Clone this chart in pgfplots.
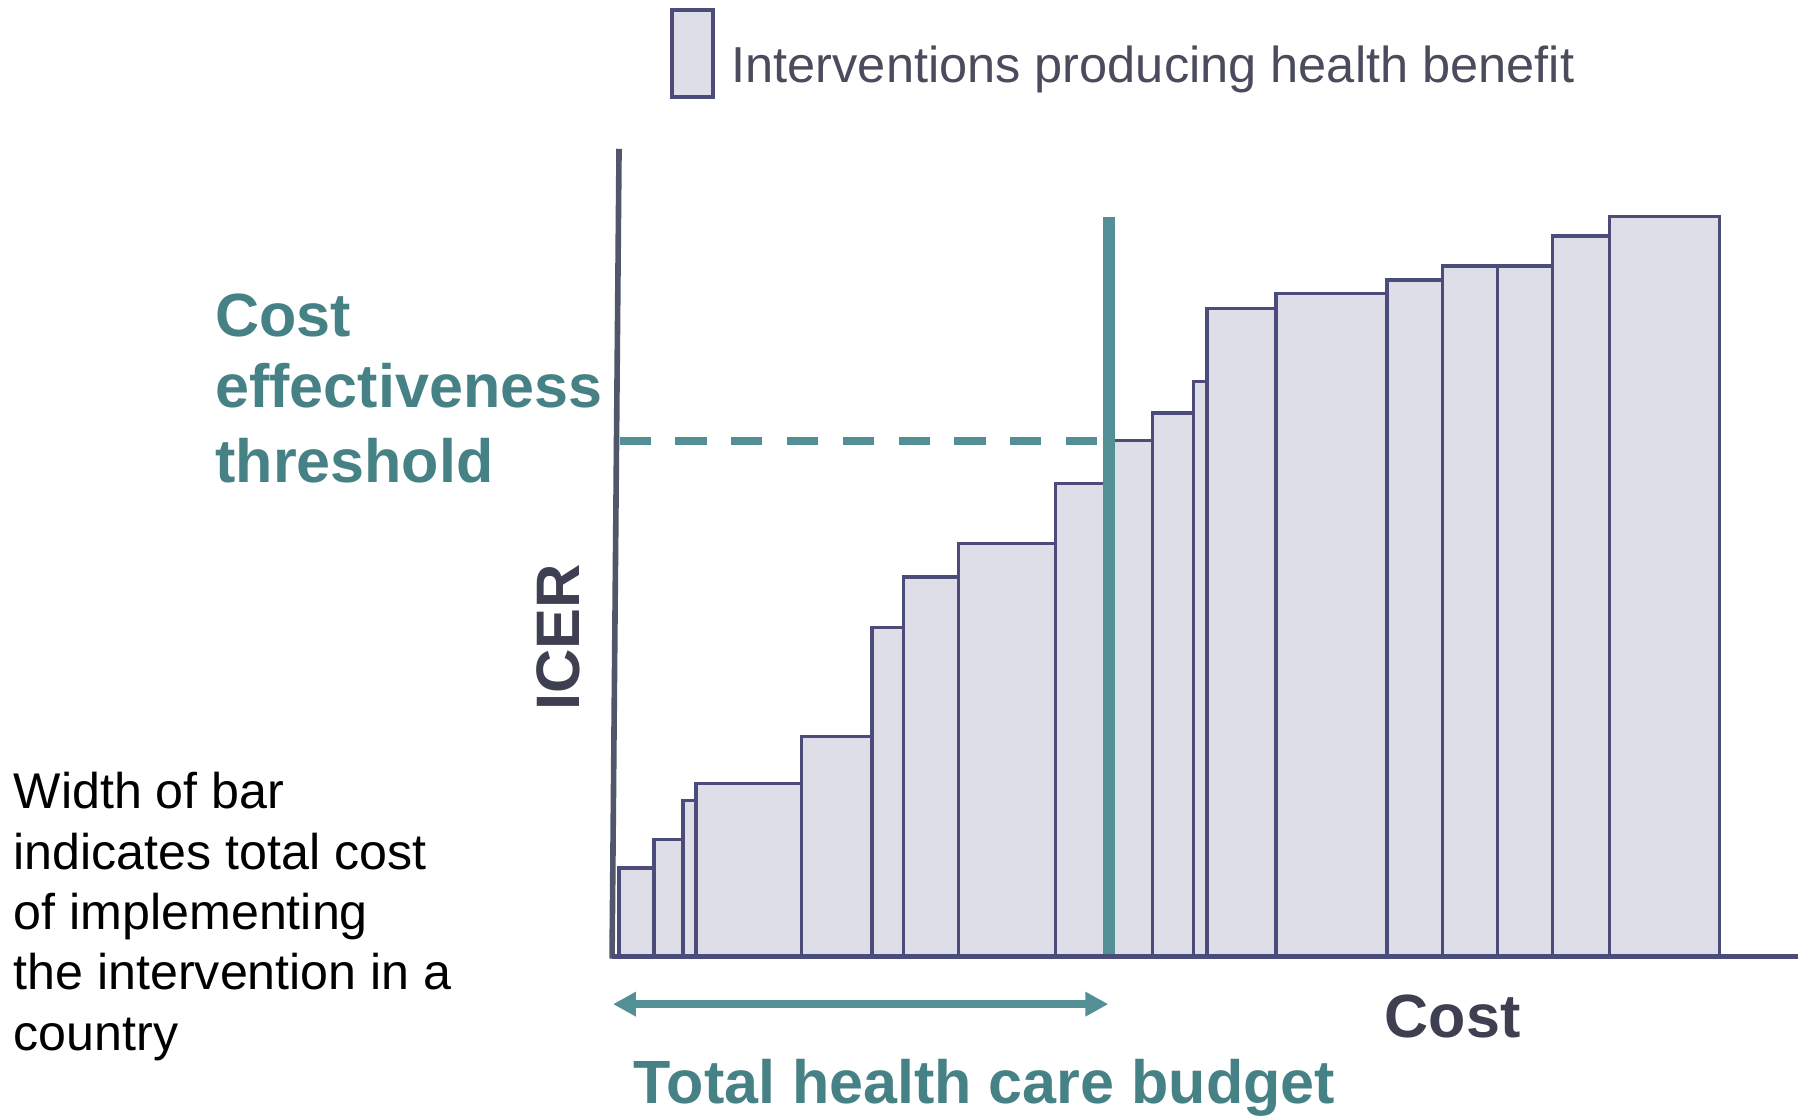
\documentclass[border=0pt]{standalone}
\usepackage{pgfplots}
\pgfplotsset{compat=1.18}
\usepackage{fontspec}
\setmainfont{Liberation Sans}
\usetikzlibrary{arrows.meta}

\definecolor{tealline}{HTML}{539095}
\definecolor{tealtext}{HTML}{468185}
\definecolor{barfill}{HTML}{DDDEE7}
\definecolor{barline}{HTML}{4B4C79}
\definecolor{yaxiscol}{HTML}{52566A}
\definecolor{darktext}{HTML}{3E4052}
\definecolor{legtext}{HTML}{4A4B5C}

% Left edge of each intervention (cumulative cost) and its ICER;
% the last row closes the final interval.
\pgfplotstableread{
cost icer
5     87.5
40    116
69    155
82    172.5
187.5 219.5
258.5 328.5
290   379
345   412.5
442   473
497.5 515.5
539   543.5
580.5 575
594   648
663   663
774   676.5
829.5 690.5
884.5 690.5
940   720.5
997   740
1107  740
}\interventions

\begin{document}
\begin{tikzpicture}
\begin{axis}[
  x=0.1mm, y=0.1mm,
  xmin=-615, xmax=1186, ymin=-161, ymax=957,
  enlargelimits=false,
  hide axis,
  clip=false,
]
% page extent
\path (axis cs:-615,-161) rectangle (axis cs:1186,957);

% league-table bars: width = cost, height = ICER
\addplot[ybar interval, fill=barfill, draw=barline, line width=0.95pt, mark=none]
  table[x=cost, y=icer] {\interventions};

% cost effectiveness threshold (dashed) and budget limit (solid)
\addplot[tealline, line width=2.2pt, dash pattern=on 8.9pt off 7pt]
  coordinates {(5.6,515.5) (484,515.5)};
\addplot[tealline, line width=3.3pt]
  coordinates {(496,1) (496,740)};

% axes
\draw[yaxiscol, line width=1.6pt] (axis cs:-2,-3) -- (axis cs:5,808);
\draw[barline, line width=1.6pt] (axis cs:-2,-1) -- (axis cs:1186,-1);

% budget arrow
\draw[tealline, line width=2.2pt,
      {Triangle[length=6.5pt,width=6.6pt]}-{Triangle[length=6.5pt,width=6.6pt]}]
  (axis cs:-1,-48.7) -- (axis cs:495,-48.7);

% labels
\node[rotate=90, anchor=center, font=\fontsize{17.5}{21}\selectfont\bfseries, text=darktext, inner sep=0pt]
  at (axis cs:-56,318.5) {ICER};
\node[anchor=base, font=\fontsize{17.4}{21}\selectfont\bfseries, text=darktext, inner sep=0pt]
  at (axis cs:840,-82.5) {Cost};
\node[anchor=base, font=\fontsize{17.4}{21}\selectfont\bfseries, text=tealtext, inner sep=0pt]
  at (axis cs:371,-148) {Total health care budget};

\begin{scope}[every node/.style={anchor=base west, inner sep=0pt,
    font=\fontsize{17.4}{21}\selectfont\bfseries, text=tealtext}]
  \node at (axis cs:-400,620.3) {Cost};
  \node at (axis cs:-400,548.7) {effectiveness};
  \node at (axis cs:-400,473.7) {threshold};
\end{scope}

\begin{scope}[every node/.style={anchor=base west, inner sep=0pt,
    font=\fontsize{14.3}{17}\selectfont, text=black}]
  \node at (axis cs:-602,147)   {Width of bar};
  \node at (axis cs:-602,86.5)  {indicates total cost};
  \node at (axis cs:-602,26)    {of implementing};
  \node at (axis cs:-602,-34.5) {the intervention in a};
  \node at (axis cs:-602,-95)   {country};
\end{scope}

% key
\draw[barline, fill=barfill, line width=1.1pt] (axis cs:58,860) rectangle (axis cs:99,947);
\node[anchor=base west, inner sep=0pt, font=\fontsize{14.4}{17}\selectfont, text=legtext]
  at (axis cs:117,874) {Interventions producing health benefit};
\end{axis}
\end{tikzpicture}
\end{document}
